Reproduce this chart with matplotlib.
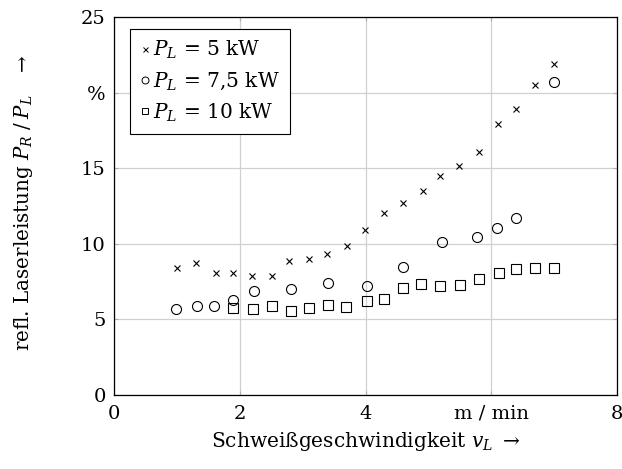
import matplotlib
matplotlib.use("Agg")
import matplotlib.pyplot as plt
from matplotlib.lines import Line2D

plt.rcParams['font.family'] = ['DejaVu Serif']
plt.rcParams['mathtext.fontset'] = 'dejavuserif'

# Data
x_5 = [1.0, 1.3, 1.62, 1.89, 2.2, 2.51, 2.79, 3.1, 3.39, 3.7, 3.99,
       4.3, 4.6, 4.92, 5.19, 5.49, 5.81, 6.1, 6.4, 6.69, 6.99]
y_5 = [8.38, 8.71, 8.05, 8.09, 7.87, 7.89, 8.88, 9.01, 9.32, 9.85, 10.91,
       12.02, 12.68, 13.52, 14.45, 15.17, 16.1, 17.93, 18.9, 20.52, 21.9]

x_75 = [0.98, 1.32, 1.59, 1.89, 2.22, 2.81, 3.4, 4.02, 4.6, 5.21, 5.78, 6.09, 6.4, 6.99]
y_75 = [5.66, 5.88, 5.9, 6.28, 6.9, 7.03, 7.38, 7.2, 8.44, 10.1, 10.45, 11.07, 11.69, 20.67]

x_10 = [1.89, 2.21, 2.51, 2.81, 3.1, 3.4, 3.69, 4.02, 4.29, 4.6, 4.89,
        5.19, 5.5, 5.8, 6.12, 6.39, 6.7, 6.99]
y_10 = [5.73, 5.66, 5.88, 5.57, 5.73, 5.93, 5.79, 6.23, 6.37, 7.05, 7.34,
        7.23, 7.25, 7.69, 8.09, 8.33, 8.42, 8.42]

series_labels = [r"$P_L$ = 5 kW", r"$P_L$ = 7,5 kW", r"$P_L$ = 10 kW"]
x_ticks = [0, 2, 4, 6, 8]
x_ticklabels = ["0", "2", "4", "m / min", "8"]
y_ticks = [0, 5, 10, 15, 20, 25]
y_ticklabels = ["0", "5", "10", "15", "%", "25"]

fig = plt.figure(figsize=(6.22, 4.69), dpi=100)
ax = fig.add_axes([0.1833, 0.158, 0.8087, 0.8057])

fs = 14
ax.plot(x_5, y_5, linestyle='none', marker='x', markersize=5, markeredgewidth=0.8,
        color='black', zorder=3)
ax.plot(x_75, y_75, linestyle='none', marker='o', markersize=7.2, markeredgewidth=0.8,
        markerfacecolor='none', markeredgecolor='black', zorder=3)
ax.plot(x_10, y_10, linestyle='none', marker='s', markersize=7.0, markeredgewidth=0.8,
        markerfacecolor='none', markeredgecolor='black', zorder=3)

ax.set_xlim(0, 8)
ax.set_ylim(0, 25)
ax.set_xticks(x_ticks)
ax.set_xticklabels(x_ticklabels, fontsize=fs)
ax.set_yticks(y_ticks)
ax.set_yticklabels(y_ticklabels, fontsize=fs)

ax.grid(True, color='#d0d0d0', linewidth=0.9, zorder=0)
ax.set_axisbelow(True)
ax.tick_params(direction='in', length=3, width=0.8, color='#b0b0b0',
               top=True, right=True)
ax.tick_params(axis='y', pad=6)
ax.tick_params(axis='x', pad=7)
for s in ax.spines.values():
    s.set_linewidth(0.9)
    s.set_color('black')

ax.set_xlabel(r"Schweißgeschwindigkeit $v_L$ $\rightarrow$", fontsize=14.5, labelpad=5)
ax.set_ylabel(r"refl. Laserleistung $P_R\;/\;P_L\quad\rightarrow$", fontsize=14.3)
ax.yaxis.set_label_coords(-0.158, 0.51)

handles = [
    Line2D([], [], linestyle='none', marker='x', markersize=3.6, markeredgewidth=0.7, color='black'),
    Line2D([], [], linestyle='none', marker='o', markersize=5, markeredgewidth=0.7,
           markerfacecolor='none', markeredgecolor='black'),
    Line2D([], [], linestyle='none', marker='s', markersize=5, markeredgewidth=0.7,
           markerfacecolor='none', markeredgecolor='black'),
]
leg = ax.legend(handles, series_labels, loc='upper left', fontsize=14.5,
                bbox_to_anchor=(0.0318, 0.968), borderaxespad=0,
                frameon=True, fancybox=False, edgecolor='black', framealpha=1,
                handlelength=0.45, handletextpad=0.2, borderpad=0.5,
                labelspacing=0.45)
leg.get_frame().set_linewidth(0.8)

fig.savefig("out.png", dpi=100)
